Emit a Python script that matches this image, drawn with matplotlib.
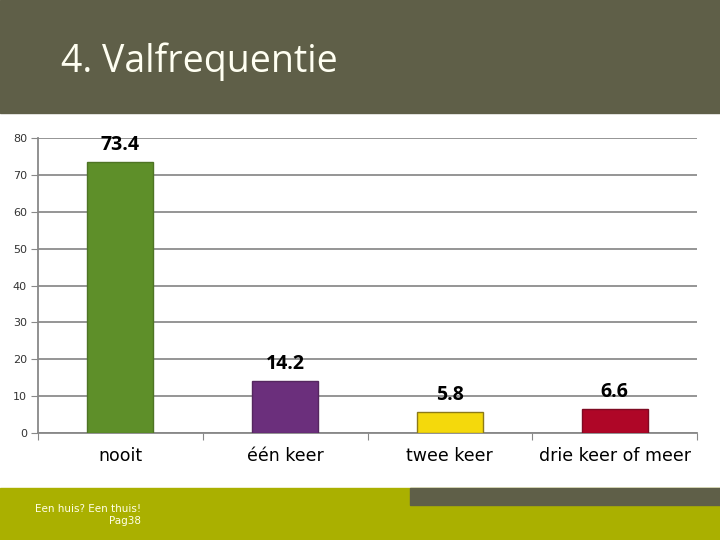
import matplotlib.pyplot as plt
from matplotlib.patches import Rectangle

categories = ['nooit', 'één keer', 'twee keer', 'drie keer of meer']
values = [73.4, 14.2, 5.8, 6.6]
bar_colors = ['#5E8F29', '#6B2F7C', '#F4D90C', '#AF0627']
edge_colors = ['#4E7424', '#55265F', '#8C7A18', '#7E0A22']
y_ticks = [0, 10, 20, 30, 40, 50, 60, 70, 80]

dark = '#5F5F48'
olive = '#AAB000'

fig = plt.figure(figsize=(7.2, 5.4), dpi=100)

# header band + title
fig.patches.append(Rectangle((0, 1 - 113 / 540), 1, 113 / 540, transform=fig.transFigure,
                             color=dark, zorder=0))
fig.text(61 / 720, 1 - 62 / 540, '4. Valfrequentie', fontsize=27, color='#FFFFF2',
         family='Open Sans', va='center', ha='left')

# footer bands
fig.patches.append(Rectangle((0, 0), 1, 52 / 540, transform=fig.transFigure,
                             color=olive, zorder=0))
fig.patches.append(Rectangle((410 / 720, 35 / 540), 310 / 720, 17 / 540,
                             transform=fig.transFigure, color=dark, zorder=1))
fig.text(141 / 720, 1 - 509 / 540, 'Een huis? Een thuis!', fontsize=7.5, color='#FFFFE6',
         ha='right', va='center')
fig.text(141 / 720, 1 - 521 / 540, 'Pag38', fontsize=7.5, color='#FFFFE6',
         ha='right', va='center')

ax = fig.add_axes([38 / 720, 1 - 433 / 540, 659 / 720, 295 / 540])
x = range(len(categories))
bars = ax.bar(x, values, width=0.4, color=bar_colors, edgecolor=edge_colors,
              linewidth=1, zorder=3)

for xi, v in zip(x, values):
    ax.annotate(f'{v}', (xi, v), xytext=(0, 5), textcoords='offset points',
                ha='center', va='bottom', fontsize=14, fontweight='bold',
                family='Open Sans', color='black')

ax.set_xlim(-0.5, len(categories) - 0.5)
ax.set_ylim(0, 80)
ax.set_yticks(y_ticks)
ax.tick_params(axis='y', labelsize=8, length=5, color='#888888', labelcolor='#333333', pad=3)
ax.yaxis.grid(True, color='#8C8C8C', linewidth=1.3, zorder=0)
ax.set_axisbelow(True)

ax.set_xticks([i - 0.5 for i in range(len(categories) + 1)])
ax.set_xticklabels([])
ax.set_xticks(list(x), minor=True)
ax.set_xticklabels(categories, minor=True)
ax.tick_params(axis='x', which='major', length=5, color='#888888')
ax.tick_params(axis='x', which='minor', length=0, labelsize=12.5, pad=10, labelcolor='black')

for s in ['top', 'right']:
    ax.spines[s].set_visible(False)
for s in ['left', 'bottom']:
    ax.spines[s].set_color('#888888')
    ax.spines[s].set_linewidth(1.3)

fig.savefig('out.png', dpi=100)
